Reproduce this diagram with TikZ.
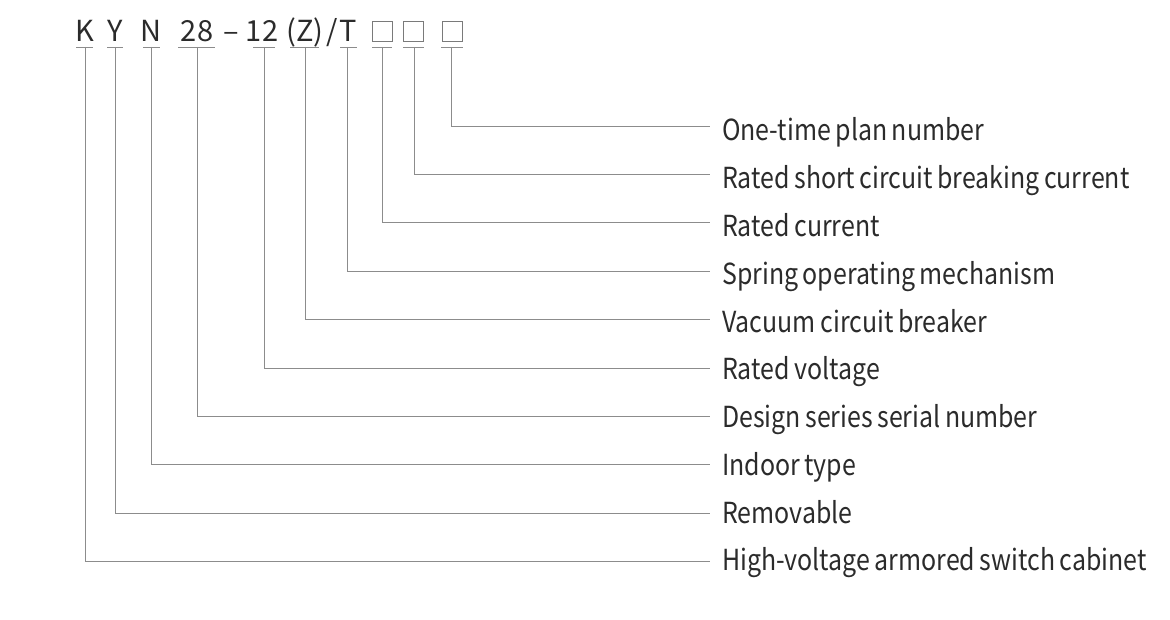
\documentclass[tikz,border=0pt]{standalone}
\usepackage{fontspec}
\setmainfont{Noto Sans CJK SC}[FakeStretch=0.86,WordSpace=0.8]
\newfontfamily\codefont{Noto Sans CJK SC}
\definecolor{txt}{HTML}{2B2B2B}
\definecolor{ln}{HTML}{8C8C8C}
\definecolor{bx}{HTML}{7A7A7A}
\begin{document}
\begin{tikzpicture}[x=1pt,y=-1pt,
  code/.style={anchor=base,inner sep=0pt,font=\codefont\fontsize{29}{30}\selectfont,text=txt},
  lab/.style={anchor=base west,inner sep=0pt,font=\fontsize{29}{30}\selectfont,text=txt},
  conn/.style={draw=ln,line width=0.9pt},
  ubar/.style={draw=ln,line width=0.9pt},
  sq/.style={draw=bx,line width=0.9pt,minimum width=20pt,minimum height=20pt,inner sep=0pt}]
\useasboundingbox (0,0) rectangle (1170,620);
% top code
\node[code] (tK) at (85,42) {K};
\node[code] (tY) at (115,42) {Y};
\node[code] (tN) at (151,42) {N};
\node[code] (t28) at (197,42) {28};
\node[code] (tdash) at (231,42) {–};
\node[code] (t12) at (262,42) {12};
\node[code] (tZ) at (305,42) {(Z)};
\node[code] (tsl) at (332,42) {/};
\node[code] (tT) at (348,42) {T};
\node[sq] (b1) at (382,31) {};
\node[sq] (b2) at (413.5,31) {};
\node[sq] (b3) at (452,31) {};
% underlines
\foreach \n/\a/\b in {K/76/93,Y/107/123,N/143/160,28/178/215,12/253/275,Z/290/319,T/340/357,b1/372/392,b2/403/424,b3/441/463}{
  \draw[ubar] (\a,47) -- (\b,47);
}
% underline centres
\coordinate (uK) at (85,47);
\coordinate (uY) at (115,47);
\coordinate (uN) at (151,47);
\coordinate (u28) at (197,47);
\coordinate (u12) at (264,47);
\coordinate (uZ) at (305,47);
\coordinate (uT) at (347,47);
\coordinate (ub1) at (382,47);
\coordinate (ub2) at (414,47);
\coordinate (ub3) at (451,47);
% labels
\node[lab] (l0) at (722,141) {One-time plan number};
\node[lab] (l1) at (722,188.75) {Rated short circuit breaking current};
\node[lab] (l2) at (722,236.5) {Rated current};
\node[lab] (l3) at (722,284.25) {Spring operating mechanism};
\node[lab] (l4) at (722,332) {Vacuum circuit breaker};
\node[lab] (l5) at (722,379.75) {Rated voltage};
\node[lab] (l6) at (722,427.5) {Design series serial number};
\node[lab] (l7) at (722,475.25) {Indoor type};
\node[lab] (l8) at (722,523) {Removable};
\node[lab] (l9) at (722,570.75) {High-voltage armored switch cabinet};
% line ends
\foreach \i in {0,...,9}{
  \coordinate (e\i) at (710,126+48.4*\i);
}
\draw[conn] (ub3) |- (e0);
\draw[conn] (ub2) |- (e1);
\draw[conn] (ub1) |- (e2);
\draw[conn] (uT) |- (e3);
\draw[conn] (uZ) |- (e4);
\draw[conn] (u12) |- (e5);
\draw[conn] (u28) |- (e6);
\draw[conn] (uN) |- (e7);
\draw[conn] (uY) |- (e8);
\draw[conn] (uK) |- (e9);
\end{tikzpicture}
\end{document}
